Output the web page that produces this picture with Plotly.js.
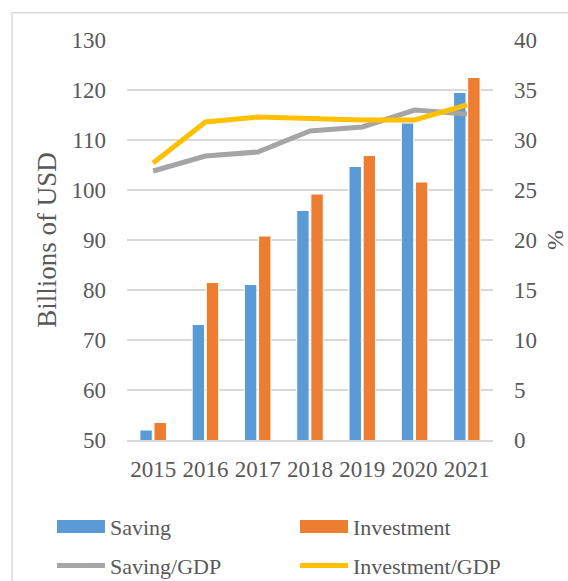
<!DOCTYPE html>
<html>
<head>
<meta charset="utf-8">
<script src="https://cdn.plot.ly/plotly-3.0.1.min.js"></script>
<style>html,body{margin:0;padding:0;background:#fff;}#chart{width:568px;height:581px;}</style>
</head>
<body>
<div id="chart"></div>
<script>
const years = ['2015','2016','2017','2018','2019','2020','2021'];
const saving = [52.0, 73.1, 81.1, 95.9, 104.7, 113.4, 119.5];
const investment = [53.5, 81.5, 90.8, 99.2, 106.9, 101.6, 122.5];
const savingGDP = [26.9, 28.4, 28.8, 30.9, 31.3, 33.0, 32.6];
const investmentGDP = [27.7, 31.8, 32.3, 32.1, 32.0, 32.0, 33.5];

const font = 'Liberation Serif, Times New Roman, serif';
const txt = '#595959';

const traces = [
  {type:'bar', name:'Saving', x:years, y:saving, marker:{color:'#5B9BD5', line:{color:'#ffffff', width:1}}, legend:'legend'},
  {type:'bar', name:'Investment', x:years, y:investment, marker:{color:'#ED7D31', line:{color:'#ffffff', width:1}}, legend:'legend'},
  {type:'scatter', mode:'lines', name:'Saving/GDP', x:years, y:savingGDP, yaxis:'y2', line:{color:'#A5A5A5', width:5}, legend:'legend2'},
  {type:'scatter', mode:'lines', name:'Investment/GDP', x:years, y:investmentGDP, yaxis:'y2', line:{color:'#FFC000', width:5}, legend:'legend2'}
];

const legendBase = {orientation:'h', x:-0.205, xanchor:'left', yanchor:'middle',
  entrywidth:180, font:{size:22, color:txt, family:font}, itemwidth:48, bgcolor:'rgba(0,0,0,0)', traceorder:'normal'};

const layout = {
  width:568, height:581,
  margin:{l:127, r:75, t:40, b:141, autoexpand:false},
  paper_bgcolor:'#ffffff', plot_bgcolor:'#ffffff',
  font:{family:font, color:txt, size:23},
  barmode:'group', bargap:0.46, bargroupgap:0.12,
  xaxis:{type:'category', showgrid:false, showline:true, linecolor:'#D9D9D9', linewidth:1.5, ticks:'', tickfont:{size:23, color:txt}, ticklabelstandoff:8, automargin:false},
  yaxis:{range:[50,130], dtick:10, showgrid:true, gridcolor:'#D9D9D9', gridwidth:1.5, zeroline:false, showline:false, ticks:'', tickfont:{size:23, color:txt}, ticklabelstandoff:20, automargin:false,
    title:{text:'Billions of USD', font:{size:27, color:txt}, standoff:7}},
  yaxis2:{range:[0,40], dtick:5, overlaying:'y', side:'right', showgrid:false, zeroline:false, showline:false, ticks:'', tickfont:{size:23, color:txt}, ticklabelstandoff:20, automargin:false,
    title:{text:'%', font:{size:24, color:txt}, standoff:14}},
  legend:Object.assign({}, legendBase, {y:-0.217}),
  legend2:Object.assign({}, legendBase, {y:-0.314}),
  shapes:[{type:'rect', xref:'paper', yref:'paper', x0:-0.314, x1:1.7, y0:-0.5, y1:1.068, line:{color:'#D9D9D9', width:1.5}, layer:'below'}]
};

Plotly.newPlot('chart', traces, layout, {displayModeBar:false, staticPlot:true}).then(function(gd){
  // widen the bar legend swatches to match the reference's wide rectangles
  gd.querySelectorAll('.legend .traces').forEach(function(t){
    const p = t.querySelector('.legendpoints path');
    const name = t.textContent;
    if ((name === 'Saving' || name === 'Investment') && p) {
      p.setAttribute('d', 'M-24,-6.5h48v13h-48z');
      p.style.strokeWidth = '0';
    }
  });
});
</script>
</body>
</html>
